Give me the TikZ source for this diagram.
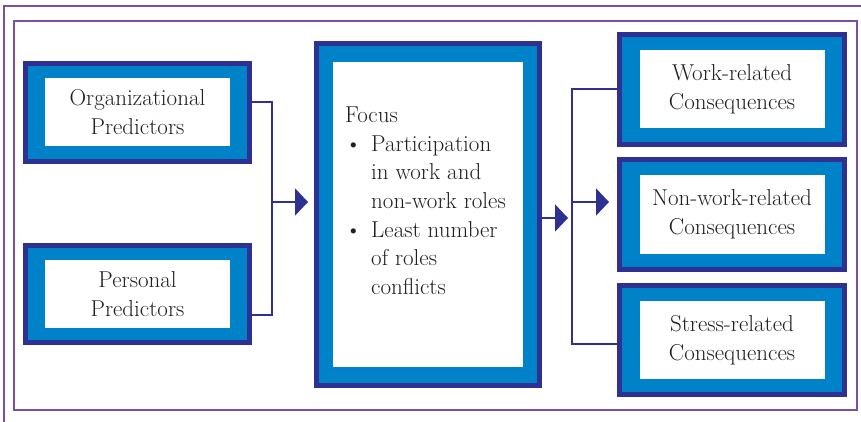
\documentclass[tikz,border=0pt]{standalone}
\usepackage{fontspec}
\usetikzlibrary{arrows.meta}
\definecolor{navy}{HTML}{2E3192}
\definecolor{azure}{HTML}{0082C8}
\definecolor{framepurple}{HTML}{7B4FA5}
\definecolor{inkgray}{HTML}{231F20}
\newcommand\boxfont{\fontsize{23}{29}\selectfont}
\tikzset{
  outerbox/.style={draw=navy,line width=5pt,fill=azure},
  innerbox/.style={fill=white,inner sep=0pt,align=center,font=\boxfont,text=inkgray},
  conn/.style={draw=navy,line width=2pt},
  arrowhd/.style={-{Triangle[width=27pt,length=13pt]}},
  frame/.style={draw=framepurple,line width=2pt}
}
\begin{document}
\begin{tikzpicture}[x=1pt,y=-1pt]
\useasboundingbox (0,0) rectangle (861,422);
% frames
\draw[frame] (4,422) |- (861,6);
\draw[frame] (14,21) rectangle (857,410);

\begin{scope}[every node/.style={outerbox}]
\node[minimum width=224pt,minimum height=98pt] (org) at (137.5,112.5) {};
\node[minimum width=224pt,minimum height=97pt] (pers) at (137.5,294) {};
\node[minimum width=223pt,minimum height=342pt] (focus) at (428,214.5) {};
\node[minimum width=225pt,minimum height=110pt] (work) at (732,89.5) {};
\node[minimum width=225pt,minimum height=110pt] (nonwork) at (732,214.5) {};
\node[minimum width=225pt,minimum height=109pt] (stress) at (732,340) {};
\end{scope}

\begin{scope}[every node/.style={innerbox}]
\node[minimum width=185pt,minimum height=68pt] (orgtxt) at (org) {Organizational\\Predictors};
\node[minimum width=185pt,minimum height=68pt] (perstxt) at (pers) {Personal\\Predictors};
\node[minimum width=190pt,minimum height=304pt] (focusbg) at (focus) {};
\node[minimum width=185pt,minimum height=78pt] (worktxt) at (work) {Work-related\\Consequences};
\node[minimum width=185pt,minimum height=78pt] (nonworktxt) at (nonwork) {Non-work-related\\Consequences};
\node[minimum width=185pt,minimum height=78pt] (stresstxt) at (stress) {Stress-related\\Consequences};
\end{scope}

\node[fill=none,inner sep=0pt,align=left,anchor=north west,text=inkgray,font=\fontsize{23}{28.7}\selectfont] (focustxt) at (345,106.5)
  {Focus\\
   \makebox[26pt][l]{\textbullet}Participation\\
   \hspace*{26pt}in work and\\
   \hspace*{26pt}non-work roles\\
   \makebox[26pt][l]{\textbullet}Least number\\
   \hspace*{26pt}of roles\\
   \hspace*{26pt}conflicts};

% connectors
\coordinate (joinL) at (272,202);
\coordinate (splitR) at (572,202);
\draw[conn] ([yshift=10.5pt]org.east) -| (joinL) |- ([yshift=-21pt]pers.east);
\draw[conn,arrowhd] (joinL) -- ([xshift=-6pt]focus.west |- joinL);
\draw[conn,arrowhd] ([yshift=-3.5pt]focus.east) -- ++(26,0);
\draw[conn] ([yshift=.5pt]work.west) -| (splitR) |- ([yshift=-4pt]stress.west);
\draw[conn,arrowhd] (splitR) -- ([xshift=-8pt]nonwork.west |- splitR);
\end{tikzpicture}
\end{document}
